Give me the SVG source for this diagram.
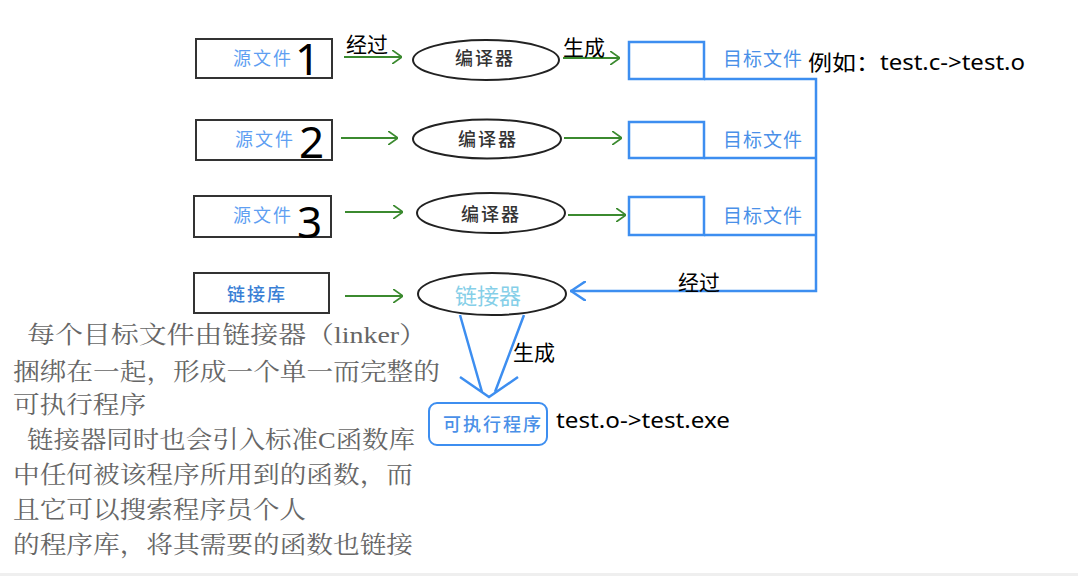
<svg xmlns="http://www.w3.org/2000/svg" width="1078" height="576" viewBox="0 0 1078 576">
<style>
.src{fill:#fff;stroke:#333;stroke-width:2}
.ell{fill:#fff;stroke:#222;stroke-width:2}
.tgt{fill:#fff;stroke:#3d8ef0;stroke-width:2.5}
.t{font-family:"Noto Sans","Noto Sans CJK SC",sans-serif}
.blue{fill:#5f9ff2;font-size:18px;letter-spacing:2px}
.dark{fill:#333;font-size:18px;letter-spacing:2px;font-weight:500}
.big{fill:#000;font-size:44px}
.lbl{fill:#000;font-size:21px}
.note{font-family:"Liberation Serif","Noto Serif CJK SC","Noto Sans CJK SC",serif;fill:#666;font-size:24px}
.g{stroke:#3b8a2f;stroke-width:1.8;fill:none}
.b{stroke:#3d8ef0;stroke-width:2.5;fill:none}
</style>
<defs>
<marker id="ag" viewBox="0 0 10 14" refX="10" refY="7" markerWidth="10" markerHeight="14" markerUnits="userSpaceOnUse" orient="auto">
<path d="M0,0 L10,7 L0,14" fill="none" stroke="#3b8a2f" stroke-width="1.8"/>
</marker>
<marker id="ab" viewBox="0 0 16 20" refX="0" refY="10" markerWidth="16" markerHeight="20" markerUnits="userSpaceOnUse" orient="0">
<path d="M16,0 L1,10 L16,20" fill="none" stroke="#3d8ef0" stroke-width="2.5"/>
</marker>
</defs>
<rect width="1078" height="576" fill="#fff"/>
<rect x="0" y="573" width="1078" height="3" fill="#efefef"/>

<g id="connectors">
<line class="g" x1="344" y1="57" x2="402" y2="57" stroke-width="2.5" marker-end="url(#ag)"/>
<line class="g" x1="563" y1="58" x2="620" y2="58" stroke-width="2.5" marker-end="url(#ag)"/>
<line class="g" x1="341" y1="138" x2="398" y2="138" marker-end="url(#ag)"/>
<line class="g" x1="564" y1="138" x2="622" y2="138" marker-end="url(#ag)"/>
<line class="g" x1="345" y1="212" x2="403" y2="212" marker-end="url(#ag)"/>
<line class="g" x1="568" y1="215" x2="626" y2="215" marker-end="url(#ag)"/>
<line class="g" x1="345" y1="296" x2="403" y2="296" marker-end="url(#ag)"/>
<path class="b" d="M704,79 H816 V291 H570" marker-end="url(#ab)"/>
<path class="b" d="M704,158 H816"/>
<path class="b" d="M704,235 H816"/>
<path class="b" d="M460,315 L482,392 M524,315 L495,392 M460,377 L489,397 L518,377" stroke-width="2.2"/>
</g>

<g id="src1">
<rect class="src" x="196" y="39" width="136" height="39"/>
<text class="t blue" x="233" y="65">源文件</text>
<text class="t big" x="295" y="75">1</text>
</g>
<g id="src2">
<rect class="src" x="196" y="120" width="136" height="40"/>
<text class="t blue" x="235" y="146">源文件</text>
<text class="t big" x="299" y="158">2</text>
</g>
<g id="src3">
<rect class="src" x="194" y="196" width="137" height="41"/>
<text class="t blue" x="233" y="222">源文件</text>
<text class="t big" x="297" y="238">3</text>
</g>
<g id="lib">
<rect class="src" x="194" y="273" width="135" height="40"/>
<text class="t blue" x="227" y="301" style="fill:#3a7fd5;font-weight:500">链接库</text>
</g>

<g id="comp1">
<ellipse class="ell" cx="486" cy="60" rx="73" ry="20"/>
<text class="t dark" x="485" y="65" text-anchor="middle">编译器</text>
</g>
<g id="comp2">
<ellipse class="ell" cx="487" cy="139" rx="74" ry="19.5"/>
<text class="t dark" x="488" y="146" text-anchor="middle">编译器</text>
</g>
<g id="comp3">
<ellipse class="ell" cx="491" cy="213" rx="74" ry="20"/>
<text class="t dark" x="491" y="221" text-anchor="middle">编译器</text>
</g>
<g id="linker">
<ellipse class="ell" cx="492" cy="294" rx="74" ry="21"/>
<text class="t" x="488" y="304" text-anchor="middle" font-size="22" fill="#86cfe8">链接器</text>
</g>

<g id="obj1">
<rect class="tgt" x="629" y="42" width="75" height="37"/>
<text class="t blue" x="723" y="66" style="fill:#4a90e8;font-size:19px;letter-spacing:1px">目标文件</text>
</g>
<g id="obj2">
<rect class="tgt" x="629" y="122" width="75" height="36"/>
<text class="t blue" x="723" y="147" style="fill:#4a90e8;font-size:19px;letter-spacing:1px">目标文件</text>
</g>
<g id="obj3">
<rect class="tgt" x="629" y="197" width="75" height="38"/>
<text class="t blue" x="723" y="223" style="fill:#4a90e8;font-size:19px;letter-spacing:1px">目标文件</text>
</g>

<g id="exe">
<rect x="429" y="403" width="118" height="42" rx="8" fill="#fff" stroke="#3d8ef0" stroke-width="2"/>
<text class="t blue" x="443" y="431" style="fill:#4a90e8;font-weight:500">可执行程序</text>
</g>

<g id="labels">
<text class="t lbl" x="346" y="52" font-size="22">经过</text>
<text class="t lbl" x="563" y="55" font-size="22">生成</text>
<text class="t lbl" x="678" y="290">经过</text>
<text class="t lbl" x="513" y="360" font-size="22">生成</text>
<text class="t lbl" x="808" y="70" font-size="22" textLength="217" lengthAdjust="spacingAndGlyphs">例如：test.c-&gt;test.o</text>
<text class="t lbl" x="556" y="428" font-size="22" textLength="174" lengthAdjust="spacingAndGlyphs">test.o-&gt;test.exe</text>
</g>

<g id="note">
<text class="note" x="27" y="343" textLength="400" lengthAdjust="spacingAndGlyphs">每个目标文件由链接器（linker）</text>
<text class="note" x="13" y="380" textLength="427" lengthAdjust="spacingAndGlyphs">捆绑在一起，形成一个单一而完整的</text>
<text class="note" x="13" y="413" textLength="133" lengthAdjust="spacingAndGlyphs">可执行程序</text>
<text class="note" x="27" y="448" textLength="388" lengthAdjust="spacingAndGlyphs">链接器同时也会引入标准C函数库</text>
<text class="note" x="13" y="483" textLength="400" lengthAdjust="spacingAndGlyphs">中任何被该程序所用到的函数，而</text>
<text class="note" x="13" y="518" textLength="293" lengthAdjust="spacingAndGlyphs">且它可以搜索程序员个人</text>
<text class="note" x="13" y="553" textLength="400" lengthAdjust="spacingAndGlyphs">的程序库，将其需要的函数也链接</text>
</g>
</svg>
